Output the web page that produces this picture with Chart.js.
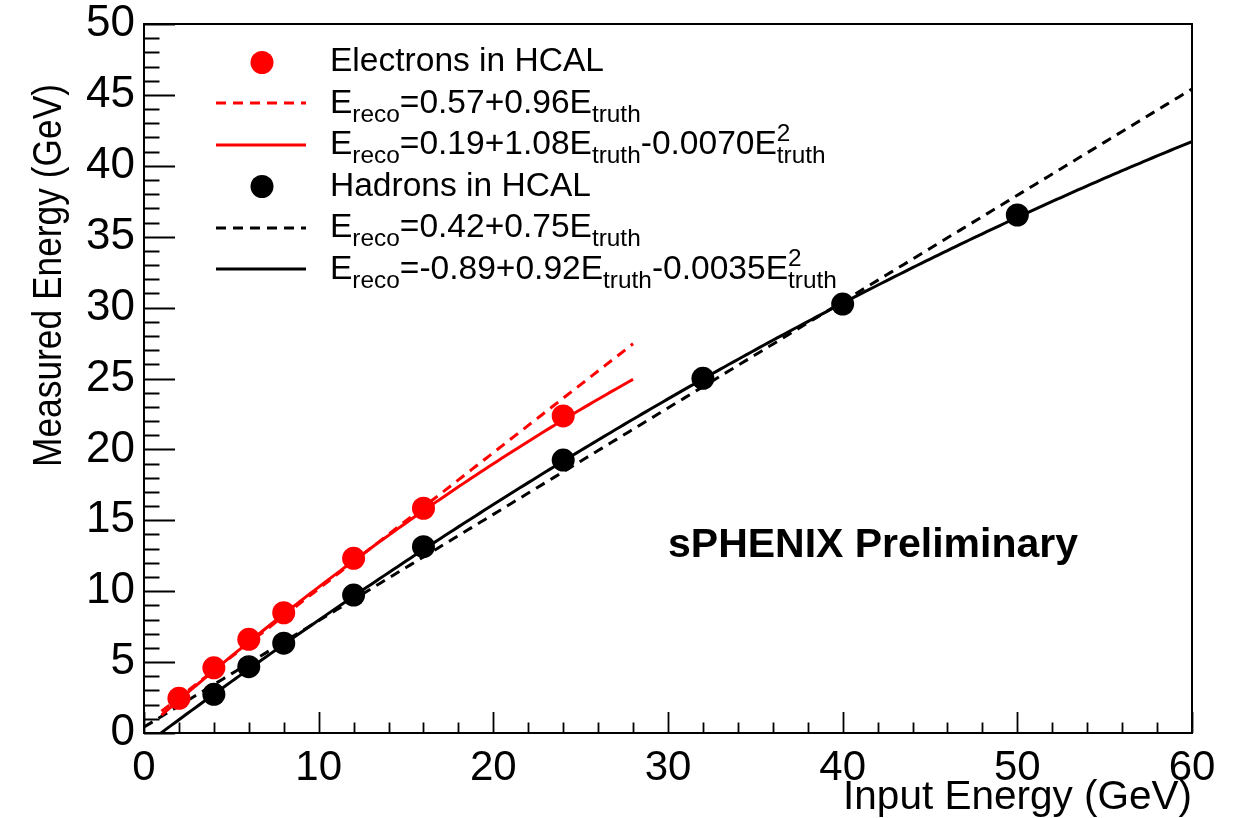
<!DOCTYPE html>
<html><head><meta charset="utf-8">
<script src="https://cdn.jsdelivr.net/npm/chart.js@4/dist/chart.umd.min.js"></script>
<style>html,body{margin:0;padding:0;background:#fff;}canvas{display:block;}</style>
</head><body>
<canvas id="c" width="1247" height="818"></canvas>
<script>
// ---- data ----
const electronEnergy   = [2, 4, 6, 8, 12, 16, 24];
const electronMeasured = [2.45, 4.60, 6.61, 8.48, 12.32, 15.85, 22.36];
const hadronEnergy     = [4, 6, 8, 12, 16, 24, 32, 40, 50];
const hadronMeasured   = [2.73, 4.68, 6.33, 9.73, 13.14, 19.25, 25.01, 30.25, 36.53];
// fit coefficients (c0, c1, c2) as printed in the legend
const electronLinearFit = [0.57, 0.96];
const electronQuadFit   = [0.19, 1.08, -0.0070];
const hadronLinearFit   = [0.42, 0.75];
const hadronQuadFit     = [-0.89, 0.92, -0.0035];
const electronFitRange  = [1, 28];
const hadronFitRange    = [0, 60];
const xTickValues = [0, 10, 20, 30, 40, 50, 60];
const yTickValues = [0, 5, 10, 15, 20, 25, 30, 35, 40, 45, 50];
const xTitle = 'Input Energy (GeV)';
const yTitle = 'Measured Energy (GeV)';
const labelText = 'sPHENIX Preliminary';
const legendRows = [
  {kind: 'marker', color: '#ff0000', parts: ['Electrons in HCAL']},
  {kind: 'dash',   color: '#ff0000', parts: ['E', {sub: 'reco'}, '=0.57+0.96E', {sub: 'truth'}]},
  {kind: 'solid',  color: '#ff0000', parts: ['E', {sub: 'reco'}, '=0.19+1.08E', {sub: 'truth'}, '-0.0070E', {sup: '2', sub: 'truth'}]},
  {kind: 'marker', color: '#000000', parts: ['Hadrons in HCAL']},
  {kind: 'dash',   color: '#000000', parts: ['E', {sub: 'reco'}, '=0.42+0.75E', {sub: 'truth'}]},
  {kind: 'solid',  color: '#000000', parts: ['E', {sub: 'reco'}, '=-0.89+0.92E', {sub: 'truth'}, '-0.0035E', {sup: '2', sub: 'truth'}]}
];

const FONT = "'Liberation Sans', Arial, Helvetica, sans-serif";

function fitCurve(coeffs, range) {
  const pts = [];
  for (let x = range[0]; x <= range[1] + 1e-9; x += 0.25) {
    let y = 0;
    coeffs.forEach((c, i) => { y += c * Math.pow(x, i); });
    pts.push({x: x, y: y});
  }
  return pts;
}
const zip = (xs, ys) => xs.map((x, i) => ({x: x, y: ys[i]}));

function drawRich(ctx, x, baseline, parts, size, subSize, sx) {
  ctx.save();
  ctx.translate(x, baseline);
  ctx.scale(sx, 1);
  let cx = 0;
  parts.forEach(p => {
    if (typeof p === 'string') {
      ctx.font = size + 'px ' + FONT;
      ctx.fillText(p, cx, 0);
      cx += ctx.measureText(p).width;
    } else {
      ctx.font = subSize + 'px ' + FONT;
      let w = 0;
      if (p.sup) { ctx.fillText(p.sup, cx, -13); w = Math.max(w, ctx.measureText(p.sup).width); }
      if (p.sub) { ctx.fillText(p.sub, cx, 9); w = Math.max(w, ctx.measureText(p.sub).width); }
      cx += w;
    }
  });
  ctx.restore();
}

const rootStyle = {
  id: 'rootStyle',
  afterDraw(chart) {
    const ctx = chart.ctx;
    const a = chart.chartArea;
    const xs = chart.scales.x, ys = chart.scales.y;
    ctx.save();
    // frame
    ctx.strokeStyle = '#000';
    ctx.lineWidth = 2;
    ctx.strokeRect(a.left, a.top, a.right - a.left, a.bottom - a.top);
    // ticks (inside)
    ctx.lineWidth = 1.8;
    ctx.beginPath();
    for (let v = 0; v <= 60; v += 2) {
      const px = Math.round(xs.getPixelForValue(v)) + 0.5;
      const len = (v % 10 === 0) ? 21 : 10.5;
      ctx.moveTo(px, a.bottom); ctx.lineTo(px, a.bottom - len);
    }
    for (let v = 0; v <= 50; v += 1) {
      const py = Math.round(ys.getPixelForValue(v)) + 0.5;
      const len = (v % 5 === 0) ? 31 : 15.5;
      ctx.moveTo(a.left, py); ctx.lineTo(a.left + len, py);
    }
    ctx.stroke();

    ctx.fillStyle = '#000';
    ctx.textBaseline = 'alphabetic';
    // x title
    ctx.font = '40.5px ' + FONT;
    ctx.textAlign = 'right';
    ctx.fillText(xTitle, 1192, 809);
    // y title (condensed to fit)
    ctx.textAlign = 'left';
    ctx.font = '41px ' + FONT;
    const yw = ctx.measureText(yTitle).width;
    ctx.save();
    ctx.translate(61, 467);
    ctx.rotate(-Math.PI / 2);
    ctx.scale(383 / yw, 1);
    ctx.fillText(yTitle, 0, 0);
    ctx.restore();
    // sPHENIX label
    ctx.font = 'bold 41px ' + FONT;
    const lw = ctx.measureText(labelText).width;
    ctx.save();
    ctx.translate(668, 557);
    ctx.scale(410 / lw, 1);
    ctx.fillText(labelText, 0, 0);
    ctx.restore();

    // legend
    const rowBase = [71, 112.5, 154, 195.5, 237, 278.5];
    const rowMid  = [62.5, 103, 145, 186.5, 228, 269];
    ctx.font = '33px ' + FONT;
    const sx = 274 / ctx.measureText('Electrons in HCAL').width;
    legendRows.forEach((r, i) => {
      ctx.strokeStyle = r.color;
      ctx.fillStyle = r.color;
      if (r.kind === 'marker') {
        ctx.beginPath();
        ctx.arc(262, rowMid[i], 11.5, 0, Math.PI * 2);
        ctx.fill();
      } else {
        ctx.lineWidth = 3;
        ctx.setLineDash(r.kind === 'dash' ? [10, 7] : []);
        ctx.beginPath();
        ctx.moveTo(216, rowMid[i]); ctx.lineTo(306, rowMid[i]);
        ctx.stroke();
        ctx.setLineDash([]);
      }
      ctx.fillStyle = '#000';
      drawRich(ctx, 330, rowBase[i], r.parts, 33, 24, sx);
    });
    ctx.restore();
  }
};

const tickFont = size => ({family: FONT, size: size});

new Chart(document.getElementById('c'), {
  type: 'scatter',
  data: {
    datasets: [
      {label: 'Electrons in HCAL', data: zip(electronEnergy, electronMeasured), backgroundColor: '#ff0000', borderWidth: 0, pointRadius: 11.5, order: 0},
      {label: 'Hadrons in HCAL', data: zip(hadronEnergy, hadronMeasured), backgroundColor: '#000000', borderWidth: 0, pointRadius: 11.5, order: 0},
      {label: 'e lin', data: fitCurve(electronLinearFit, electronFitRange), showLine: true, pointRadius: 0, borderColor: '#ff0000', borderWidth: 3, borderDash: [10, 7], order: 1},
      {label: 'e quad', data: fitCurve(electronQuadFit, electronFitRange), showLine: true, pointRadius: 0, borderColor: '#ff0000', borderWidth: 3, order: 1},
      {label: 'h lin', data: fitCurve(hadronLinearFit, hadronFitRange), showLine: true, pointRadius: 0, borderColor: '#000000', borderWidth: 3, borderDash: [10, 7], order: 1},
      {label: 'h quad', data: fitCurve(hadronQuadFit, hadronFitRange), showLine: true, pointRadius: 0, borderColor: '#000000', borderWidth: 3, order: 1}
    ]
  },
  options: {
    responsive: false,
    animation: false,
    devicePixelRatio: 1,
    layout: {padding: {top: 24, right: 55, left: 0, bottom: 0}},
    plugins: {legend: {display: false}, tooltip: {enabled: false}},
    elements: {line: {tension: 0}},
    scales: {
      x: {
        type: 'linear', min: 0, max: 60,
        afterBuildTicks: s => { s.ticks = xTickValues.map(v => ({value: v})); },
        grid: {display: false, drawTicks: false},
        border: {display: false},
        ticks: {font: tickFont(42), color: '#000', padding: 10, maxRotation: 0, autoSkip: false},
        afterFit: s => { s.height = 85; s.paddingLeft = 0; s.paddingRight = 0; }
      },
      y: {
        type: 'linear', min: 0, max: 50,
        afterBuildTicks: s => { s.ticks = yTickValues.map(v => ({value: v})); },
        grid: {display: false, drawTicks: false},
        border: {display: false},
        ticks: {font: tickFont(44), color: '#000', padding: 9, autoSkip: false},
        afterFit: s => { s.width = 144; s.paddingTop = 0; s.paddingBottom = 0; }
      }
    }
  },
  plugins: [rootStyle]
});
</script>
</body></html>
